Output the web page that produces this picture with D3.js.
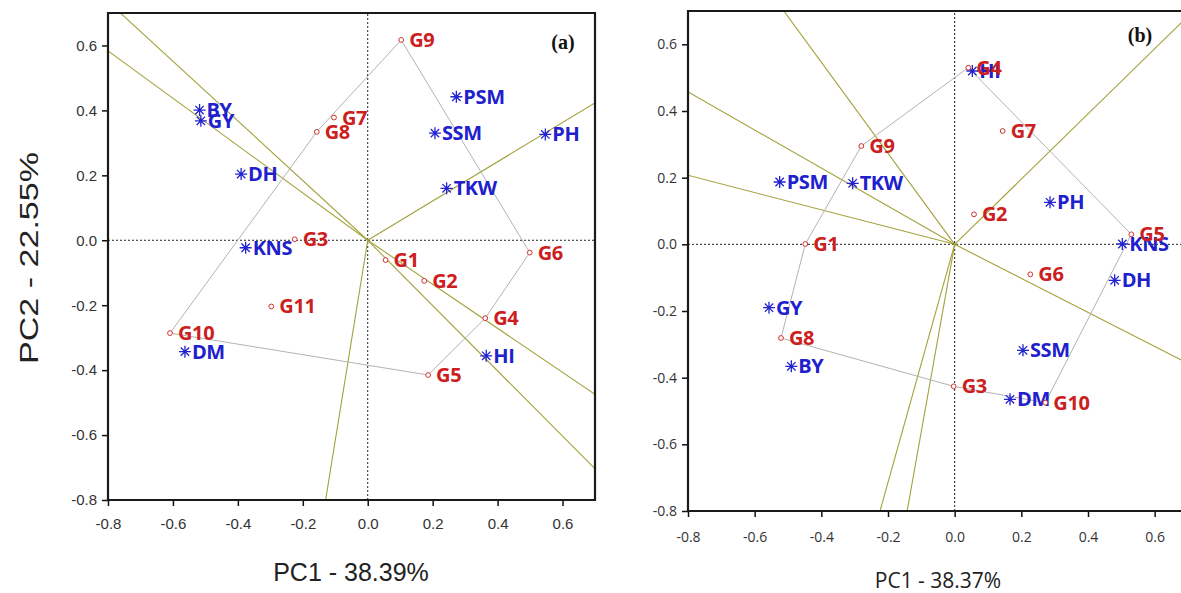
<!DOCTYPE html>
<html>
<head>
<meta charset="utf-8">
<script src="https://cdn.jsdelivr.net/npm/d3@7"></script>
<style>
  body { margin: 0; background: #fff; }
  svg { display: block; }
</style>
</head>
<body>
<div id="chart"></div>
<script>
// ---- panel (a) data ----
var genoNamesA = ["G1","G2","G3","G4","G5","G6","G7","G8","G9","G10","G11"];
var genoXA = [0.055, 0.174, -0.225, 0.362, 0.186, 0.499, -0.104, -0.157, 0.103, -0.609, -0.297];
var genoYA = [-0.061, -0.125, 0.003, -0.240, -0.415, -0.038, 0.378, 0.334, 0.617, -0.286, -0.204];
var traitNamesA = ["BY","GY","DH","KNS","DM","PSM","SSM","PH","TKW","HI"];
var traitXA = [-0.518, -0.514, -0.390, -0.376, -0.563, 0.273, 0.207, 0.547, 0.243, 0.365];
var traitYA = [0.401, 0.368, 0.204, -0.023, -0.343, 0.442, 0.330, 0.326, 0.160, -0.356];
var hullA = ["G9","G6","G4","G5","G10","G8"];

// ---- panel (b) data ----
var genoNamesB = ["G1","G2","G3","G4","G5","G6","G7","G8","G9","G10"];
var genoXB = [-0.448, 0.058, -0.003, 0.041, 0.530, 0.227, 0.144, -0.521, -0.280, 0.272];
var genoYB = [0.001, 0.090, -0.426, 0.530, 0.030, -0.090, 0.340, -0.281, 0.295, -0.475];
var traitNamesB = ["HI","PSM","TKW","PH","KNS","DH","GY","BY","SSM","DM"];
var traitXB = [0.053, -0.525, -0.306, 0.286, 0.503, 0.480, -0.557, -0.490, 0.205, 0.166];
var traitYB = [0.520, 0.187, 0.183, 0.126, 0.001, -0.108, -0.190, -0.366, -0.318, -0.465];
var hullB = ["G4","G5","G10","G3","G8","G1","G9"];

var ticks = [-0.8, -0.6, -0.4, -0.2, 0.0, 0.2, 0.4, 0.6];
var domain = [-0.8, 0.7];

var svg = d3.select("#chart").append("svg")
  .attr("width", 1181).attr("height", 593);

function drawPanel(cfg) {
  var x = d3.scaleLinear().domain(domain).range([cfg.left, cfg.right]);
  var y = d3.scaleLinear().domain(domain).range([cfg.bottom, cfg.top]);
  var g = svg.append("g");

  g.append("clipPath").attr("id", cfg.id + "-clip")
    .append("rect")
    .attr("x", cfg.left).attr("y", cfg.top)
    .attr("width", cfg.right - cfg.left).attr("height", cfg.bottom - cfg.top);

  var plot = g.append("g").attr("clip-path", "url(#" + cfg.id + "-clip)");

  // dotted zero lines
  plot.append("line")
    .attr("x1", x(0)).attr("x2", x(0)).attr("y1", y(domain[0])).attr("y2", y(domain[1]))
    .attr("stroke", "#222").attr("stroke-width", 1).attr("stroke-dasharray", "2,2");
  plot.append("line")
    .attr("x1", x(domain[0])).attr("x2", x(domain[1])).attr("y1", y(0)).attr("y2", y(0))
    .attr("stroke", "#222").attr("stroke-width", 1).attr("stroke-dasharray", "2,2");

  var genos = cfg.genoNames.map(function (n, i) {
    return { name: n, x: cfg.genoX[i], y: cfg.genoY[i] };
  });
  var byName = {};
  genos.forEach(function (d) { byName[d.name] = d; });
  var hull = cfg.hull.map(function (n) { return byName[n]; });

  // rays perpendicular to each polygon side
  var rays = hull.map(function (a, i) {
    var b = hull[(i + 1) % hull.length];
    var dx = b.x - a.x, dy = b.y - a.y;
    var t = -(a.x * dx + a.y * dy) / (dx * dx + dy * dy);
    var px = a.x + t * dx, py = a.y + t * dy;
    var len = Math.sqrt(px * px + py * py);
    return { x: px / len * 3, y: py / len * 3 };
  });
  plot.selectAll(".ray").data(rays).enter().append("line")
    .attr("x1", x(0)).attr("y1", y(0))
    .attr("x2", function (d) { return x(d.x); })
    .attr("y2", function (d) { return y(d.y); })
    .attr("stroke", "#a3a23c").attr("stroke-width", 1.1);

  // polygon
  plot.append("path")
    .datum(hull)
    .attr("d", d3.line().x(function (d) { return x(d.x); }).y(function (d) { return y(d.y); }).curve(d3.curveLinearClosed))
    .attr("fill", "none").attr("stroke", "#b3b3b3").attr("stroke-width", 1);

  // traits: asterisks
  var traits = cfg.traitNames.map(function (n, i) {
    return { name: n, x: cfg.traitX[i], y: cfg.traitY[i] };
  });
  var star = "M-6,0L6,0M0,-6L0,6M-4.2,-4.2L4.2,4.2M-4.2,4.2L4.2,-4.2";
  var tg = plot.selectAll(".trait").data(traits).enter().append("g")
    .attr("transform", function (d) { return "translate(" + x(d.x) + "," + y(d.y) + ")"; });
  tg.append("path").attr("d", star).attr("stroke", "#2323d0").attr("stroke-width", 1.3);
  tg.append("text").text(function (d) { return d.name; })
    .attr("x", 7).attr("y", 7)
    .attr("fill", "#2020cc").attr("font-family", "Open Sans, sans-serif")
    .attr("font-weight", "bold").attr("font-size", 20).attr("letter-spacing", -0.4);

  // genotypes: small circles
  var gg = plot.selectAll(".geno").data(genos).enter().append("g")
    .attr("transform", function (d) { return "translate(" + x(d.x) + "," + y(d.y) + ")"; });
  gg.append("circle").attr("r", 2.4)
    .attr("fill", "#fff").attr("stroke", "#d03030").attr("stroke-width", 1);
  gg.append("text").text(function (d) { return d.name; })
    .attr("x", 8).attr("y", 7)
    .attr("fill", "#cc2020").attr("font-family", "Open Sans, sans-serif")
    .attr("font-weight", "bold").attr("font-size", 20).attr("letter-spacing", -0.4);

  // axes
  var fmt = function (d) { return d3.format(".1f")(d).replace("−", "-"); };
  var yAxis = d3.axisLeft(y).tickValues(ticks).tickSize(6).tickPadding(5).tickFormat(fmt);
  var xAxis = d3.axisBottom(x).tickValues(ticks).tickSize(6).tickPadding(cfg.xPad).tickFormat(fmt);
  var ya = g.append("g").attr("transform", "translate(" + cfg.left + ",0)").call(yAxis);
  var xa = g.append("g").attr("transform", "translate(0," + cfg.bottom + ")").call(xAxis);
  [ya, xa].forEach(function (a) {
    a.select(".domain").remove();
    a.selectAll("line").attr("stroke", "#111").attr("stroke-width", 1.5);
    a.selectAll("text").attr("font-family", cfg.tickFont).attr("font-size", cfg.tickSize)
      .attr("fill", "#333");
  });

  // frame
  g.append("path")
    .attr("d", cfg.frame(x, y))
    .attr("fill", "none").attr("stroke", "#1a1a1a").attr("stroke-width", 2.2);

  // panel tag
  g.append("text").text(cfg.tag)
    .attr("x", cfg.tagX).attr("y", cfg.tagY).attr("text-anchor", "middle")
    .attr("font-family", "Liberation Serif, serif").attr("font-weight", "bold")
    .attr("font-size", 20).attr("fill", "#111");

  // axis titles
  g.append("text").text(cfg.xTitle)
    .attr("x", cfg.xTitleX).attr("y", cfg.xTitleY).attr("text-anchor", "middle")
    .attr("font-family", cfg.titleFont).attr("font-size", cfg.titleSize).attr("fill", "#222");
  if (cfg.yTitle) {
    g.append("text").text(cfg.yTitle)
      .attr("transform", "translate(" + cfg.yTitleX + "," + cfg.yTitleY + ") rotate(-90)")
      .attr("text-anchor", "middle")
      .attr("textLength", cfg.yTitleLen).attr("lengthAdjust", "spacingAndGlyphs")
      .attr("font-family", cfg.titleFont).attr("font-size", cfg.titleSize).attr("fill", "#222");
  }
}

drawPanel({
  id: "a", left: 108, right: 595, top: 13, bottom: 500,
  genoNames: genoNamesA, genoX: genoXA, genoY: genoYA,
  traitNames: traitNamesA, traitX: traitXA, traitY: traitYA, hull: hullA,
  tickFont: "Liberation Sans, Arial, sans-serif", tickSize: 15, xPad: 12,
  frame: function (x, y) {
    return "M" + x(domain[0]) + "," + y(domain[1]) + "H" + x(domain[1]) + "V" + y(domain[0]) +
      "H" + x(domain[0]) + "Z";
  },
  tag: "(a)", tagX: 563, tagY: 49,
  xTitle: "PC1 - 38.39%", xTitleX: 351, xTitleY: 581,
  yTitle: "PC2 - 22.55%", yTitleX: 38, yTitleY: 258, yTitleLen: 212,
  titleFont: "Liberation Sans, Arial, sans-serif", titleSize: 25
});

drawPanel({
  id: "b", left: 688, right: 1188, top: 11, bottom: 511,
  genoNames: genoNamesB, genoX: genoXB, genoY: genoYB,
  traitNames: traitNamesB, traitX: traitXB, traitY: traitYB, hull: hullB,
  tickFont: "Open Sans, sans-serif", tickSize: 14, xPad: 15,
  frame: function (x, y) {
    return "M" + x(domain[1]) + "," + y(domain[1]) + "H" + x(domain[0]) + "V" + y(domain[0]) +
      "H" + x(domain[1]);
  },
  tag: "(b)", tagX: 1140, tagY: 42,
  xTitle: "PC1 - 38.37%", xTitleX: 938, xTitleY: 588,
  titleFont: "Open Sans, sans-serif", titleSize: 21
});
</script>
</body>
</html>
